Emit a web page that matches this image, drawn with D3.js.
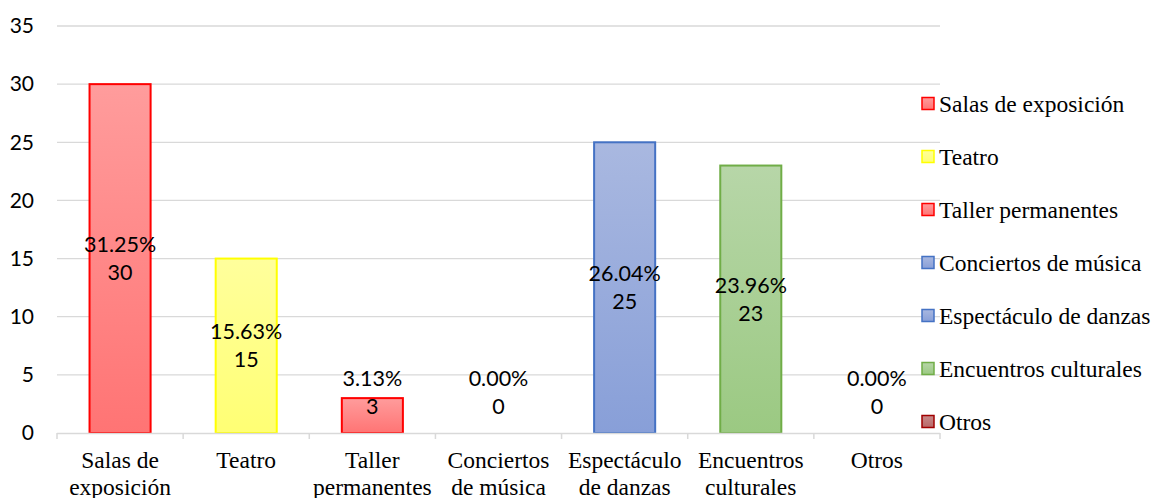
<!DOCTYPE html>
<html><head><meta charset="utf-8">
<script src="https://cdn.jsdelivr.net/npm/d3@7"></script>
<style>body{margin:0;background:#fff;} svg{display:block;}</style>
</head><body>
<svg id="c" width="1157" height="498"></svg>
<script>
const categories = ["Salas de exposición","Teatro","Taller permanentes","Conciertos de música","Espectáculo de danzas","Encuentros culturales","Otros"];
const axisLabels = [["Salas de","exposición"],["Teatro"],["Taller","permanentes"],["Conciertos","de música"],["Espectáculo","de danzas"],["Encuentros","culturales"],["Otros"]];
const values = [30,15,3,0,25,23,0];
const percents = ["31.25%","15.63%","3.13%","0.00%","26.04%","23.96%","0.00%"];
const yTicks = [0,5,10,15,20,25,30,35];
const fillTop = ["#FF9C9C","#FFFF9C","#FF9C9C","#A9B8E0","#A9B8E0","#B7D6A8","#C98A8A"];
const fillBottom = ["#FF7474","#FFFF74","#FF7474","#889FD8","#889FD8","#9BC982","#B86868"];
const strokes = ["#FF0000","#FFFF00","#FF0000","#4472C4","#4472C4","#70AD47","#A00000"];

(function(){
const SERIF = '"Liberation Serif", "Times New Roman", serif';
const SANS = '"Lato", "Open Sans", sans-serif';
const svg = d3.select("#c");
const mLeft = 57, mRight = 940, mTop = 26, mBottom = 433;
const x = d3.scaleBand().domain(categories).range([mLeft, mRight]).paddingInner(0.5).paddingOuter(0.25);
const y = d3.scaleLinear().domain([0,35]).range([mBottom, mTop]);

const defs = svg.append("defs");
categories.forEach((c,i)=>{
  const g = defs.append("linearGradient").attr("id","g"+i).attr("x1",0).attr("y1",0).attr("x2",0).attr("y2",1);
  g.append("stop").attr("offset","0%").attr("stop-color",fillTop[i]);
  g.append("stop").attr("offset","100%").attr("stop-color",fillBottom[i]);
});

svg.append("g").selectAll("line").data(yTicks.filter(t=>t>0)).join("line")
  .attr("x1",mLeft).attr("x2",mRight).attr("y1",d=>y(d)).attr("y2",d=>y(d))
  .attr("stroke","#D9D9D9").attr("stroke-width",1.3);

svg.append("g").selectAll("text").data(yTicks).join("text")
  .style("font-family",SANS).style("font-size","21px")
  .attr("x",34).attr("y",d=>y(d)).attr("dy","0.35em").attr("text-anchor","end")
  .attr("fill","#000").text(d=>d);

svg.append("g").selectAll("rect").data(values).join("rect")
  .attr("x",(d,i)=>x(categories[i])+1).attr("width",x.bandwidth()-2)
  .attr("y",d=>y(d)).attr("height",d=>mBottom-y(d))
  .attr("fill",(d,i)=>"url(#g"+i+")").attr("stroke",(d,i)=>strokes[i]).attr("stroke-width",2)
  .attr("display",d=>d>0?null:"none");

svg.append("line").attr("x1",mLeft).attr("x2",mRight).attr("y1",mBottom+0.5).attr("y2",mBottom+0.5)
  .attr("stroke","#D9D9D9").attr("stroke-width",1.5);
const bounds = d3.range(categories.length+1).map(i=>mLeft+i*(mRight-mLeft)/categories.length);
svg.append("g").selectAll("line").data(bounds).join("line")
  .attr("x1",d=>d).attr("x2",d=>d).attr("y1",mBottom).attr("y2",mBottom+6)
  .attr("stroke","#D9D9D9").attr("stroke-width",1.5);

const cl = svg.append("g");
axisLabels.forEach((lines,i)=>{
  const cx = x(categories[i])+x.bandwidth()/2;
  const t = cl.append("text").style("font-family",SERIF).style("font-size","23.5px")
    .attr("x",cx).attr("y",468).attr("text-anchor","middle").attr("fill","#000");
  lines.forEach((l,j)=>t.append("tspan").attr("x",cx).attr("dy",j?27:0).text(l));
});

const dl = svg.append("g");
values.forEach((v,i)=>{
  const mid = Math.min((y(v)+mBottom)/2, mBottom-41);
  const cx = x(categories[i])+x.bandwidth()/2;
  dl.append("text").style("font-family",SANS).style("font-size","21.5px")
    .attr("x",cx).attr("y",mid-14).attr("dy","0.35em").attr("text-anchor","middle").attr("fill","#000").text(percents[i]);
  dl.append("text").style("font-family",SANS).style("font-size","21.5px")
    .attr("x",cx).attr("y",mid+14).attr("dy","0.35em").attr("text-anchor","middle").attr("fill","#000").text(v);
});

const lg = svg.append("g");
categories.forEach((c,i)=>{
  const cy = 103.5 + i*53;
  lg.append("rect").attr("x",922).attr("y",cy-6).attr("width",12).attr("height",12)
    .attr("fill","url(#g"+i+")").attr("stroke",strokes[i]).attr("stroke-width",1.5);
  lg.append("text").style("font-family",SERIF).style("font-size","23.5px")
    .attr("x",939).attr("y",cy).attr("dy","0.35em").attr("fill","#000").text(c);
});
})();
</script>
</body></html>
